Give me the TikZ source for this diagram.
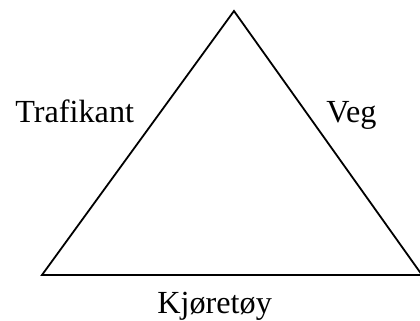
\documentclass[tikz,border=0pt]{standalone}
\usepackage{fontspec}
\setmainfont{Liberation Serif}
\usetikzlibrary{positioning}

\begin{document}
\begin{tikzpicture}[x=0.5pt, y=-0.5pt,
    side/.style={line width=0.9pt, line join=miter},
    label/.style={inner sep=0pt, anchor=base west, font=\fontsize{16.1}{19}\selectfont}]
    \useasboundingbox (0,0) rectangle (420,321);
    % Corners
    \coordinate (top) at (234,11);
    \coordinate (left) at (42,275);
    \coordinate (right) at (422,275);
    % Triangle
    \draw[side] (left) -- (top) -- (right) -- cycle;
    % Labels
    \node[label] (trafikant) at (15,123) {Trafikant};
    \node[label] (veg) at (326,123) {Veg};
    \node[label] (kjoretoy) at (157,314) {Kjøretøy};
\end{tikzpicture}
\end{document}
